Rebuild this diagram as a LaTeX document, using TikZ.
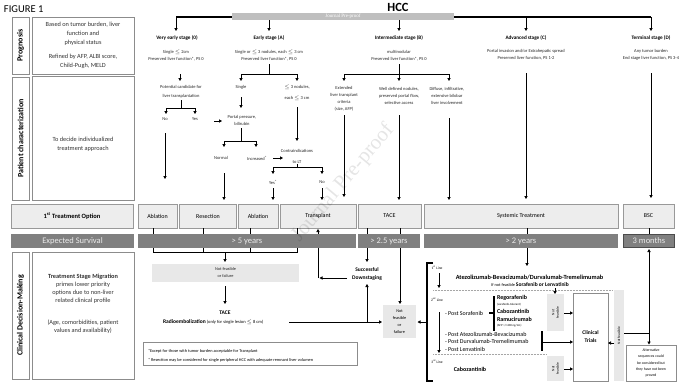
\documentclass[tikz,border=0pt]{standalone}
\usepackage{fontspec}
\setmainfont{Carlito}
\newfontfamily\serifwm{Liberation Serif}
\usetikzlibrary{arrows.meta}
\newcommand\fsz[2]{\fontsize{#1}{#2}\selectfont}
\begin{document}
\begin{tikzpicture}[x=1pt,y=-1pt]
\tikzset{
  every node/.style={inner sep=0pt, outer sep=0pt},
  ln/.style={line width=0.9pt, black},
  arr/.style={ln, -{Triangle[length=3pt,width=3.2pt]}},
  stg/.style={font=\bfseries\fsz{5.2}{6}},
  sm/.style={font=\fsz{4.5}{7}, align=center, text=black!85},
  opt/.style={draw=black!40, fill=black!7, line width=0.6pt, font=\fsz{6}{7}, minimum height=24pt},
  sbar/.style={fill=black!50, font=\fsz{8.5}{9}, text=black!8, minimum height=14pt},
  lbox/.style={draw=black!45, line width=0.6pt},
  vlab/.style={font=\bfseries\fsz{8}{9}, rotate=90},
  lt/.style={font=\fsz{6.3}{9}, align=center, text=black!80},
  gbox/.style={fill=black!9},
  thk/.style={line width=1.3pt, black},
}
\useasboundingbox (0,0) rectangle (680,384);
\fill[white] (0,0) rectangle (680,384);

% title
\node[font=\fsz{10.5}{12}, anchor=west] (fig) at (4,9) {FIGURE 1};
\node[font=\bfseries\fsz{12.5}{13}] (hcc) at (398,7.5) {HCC};

% header line and arrows
\draw[line width=1.4pt] (176,17) -- (651,17);
\foreach \x in {176,269,399,526,651} \draw[arr] (\x,17) -- (\x,31);
\fill[black!25] (232,13) rectangle (454,20);
\node[font=\serifwm\fsz{5}{6}, text=white] (jpp) at (343,16.5) {Journal Pre-proof};

% stages
\node[stg] (s0) at (177,38) {Very early stage (0)};
\node[stg] (sA) at (269,38) {Early stage (A)};
\node[stg] (sB) at (399,38) {Intermediate  stage (B)};
\node[stg] (sC) at (526,38) {Advanced  stage (C)};
\node[stg] (sD) at (651,38) {Terminal stage (D)};
\node[sm] (d0) at (176,55.5) {Single $\le$ 2cm\\Preserved liver function*, PS 0};
\node[sm] (dA) at (269,55.5) {Single or $\le$ 3 nodules, each $\le$ 3 cm\\Preserved liver function*, PS 0};
\node[sm] (dB) at (399,56) {multinodular\\Preserved liver function*, PS 0};
\node[sm] (dC) at (526,55) {Portal invasion  and/or Extrahepatic spread\\Preserved liver function, PS 1-2};
\node[sm] (dD) at (651,55) {Any tumor burden\\End stage liver function, PS 3-4};

% very early branch
\draw[arr] (180,74) -- (180,81);
\node[sm, font=\fsz{4.5}{9}] (pc) at (181,91.5) {Potential candidate for\\liver transplantation};
\draw[ln] (181,100) -- (181,108);
\draw[arr] (181,108) -| (166,114);
\draw[arr] (181,108) -| (195,114);
\node[sm] (no0) at (165,119) {No};
\node[sm] (yes0) at (195,119) {Yes};
\draw[arr] (214,121) -- (222,121);
\draw[arr] (165,133) -- (165,179);

% early branch
\draw[ln] (269,64) -- (269,74);
\draw[arr] (269,74) -| (241,81);
\draw[arr] (269,74) -| (297,81);
\node[sm] (single) at (241,87) {Single};
\node[sm, font=\fsz{4.5}{11}] (n3) at (297,92.5) {$\le$ 3 nodules,\\each $\le$ 3 cm};
\draw[arr] (241,97) -- (241,108);
\node[sm] (portal) at (242,120.5) {Portal pressure,\\bilirubin};
\draw[ln] (241,128) -- (241,141);
\draw[arr] (241,141) -| (224,147);
\draw[arr] (241,141) -| (256,147);
\node[sm] (normal) at (221,158) {Normal};
\node[sm] (incr) at (257,158) {Increased\textsuperscript{\textasciicircum}};
\draw[arr] (273,158) -- (283,158);
\draw[arr] (297,107) -- (297,141);
\node[sm, font=\fsz{4.5}{11}] (contra) at (297,156.5) {Contraindications\\to LT};
\draw[ln] (297,164) -- (297,167);
\draw[arr] (297,167) -| (273,174);
\draw[arr] (297,167) -| (322,174);
\node[sm] (yesA) at (273,182) {Yes\textsuperscript{\textasciicircum}};
\node[sm] (noA) at (322,182) {No};
\draw[arr] (273,188) -- (273,200);
\draw[arr] (322,188) -- (322,200);
\draw[arr] (224,173) -- (224,200);

% intermediate branch
\draw[ln] (399,64) -- (399,74);
\draw[arr] (399,74) -| (344,81);
\draw[arr] (399,74) -| (449,81);
\draw[arr] (399,74) -- (399,81);
\node[sm] (ext) at (344,98.5) {Extended\\liver transplant\\criteria\\(size, AFP)};
\node[sm] (well) at (399,96) {Well defined nodules,\\preserved portal flow,\\selective access};
\node[sm] (diff) at (447,96) {Diffuse, infiltrative,\\extensive bilobar\\liver involvement};
\draw[arr] (344,115) -- (344,197);
\draw[arr] (399,115) -- (399,200);
\draw[arr] (449,118) -- (449,200);
\draw[arr] (526,73) -- (526,199);
\draw[arr] (651,73) -- (651,198);

% left column
\node[lbox, minimum width=17pt, minimum height=57pt] (lp) at (20.5,45.5) {};
\node[vlab] at (lp) {Prognosis};
\node[lbox, minimum width=102pt, minimum height=57pt] (tp) at (83,45.5) {};
\node[lt] at (83,45.5) {Based on tumor burden, liver\\function and\\physical status\\[5pt]Refined by AFP,  ALBI score,\\Child-Pugh, MELD};
\node[lbox, minimum width=17pt, minimum height=123pt] (lpc) at (20.5,138.5) {};
\node[vlab] at (lpc) {Patient characterization};
\node[lbox, minimum width=102pt, minimum height=124pt] (tpc) at (83,138.5) {};
\node[lt] at (83,144.5) {To decide individualized\\treatment approach};
\node[lbox, minimum width=17pt, minimum height=127pt] (lcd) at (20.5,315.5) {};
\node[vlab] at (lcd) {Clinical Decision-Making};
\node[lbox, minimum width=102pt, minimum height=127pt] (tcd) at (83,315.5) {};
\node[lt, font=\fsz{6.3}{8}] at (83,304) {\textbf{Treatment Stage Migration}\\primes lower priority\\options due to non-liver\\related clinical profile\\[14pt](Age, comorbidities, patient\\values and  availability)};

% treatment options
\node[opt, minimum width=122pt, font=\bfseries\fsz{6.5}{7}] (o0) at (72,216) {1\textsuperscript{st} Treatment Option};
\node[opt, minimum width=39pt] (abl1) at (157.5,216) {Ablation};
\node[opt, minimum width=57pt] (res) at (208,216) {Resection};
\node[opt, minimum width=40pt] (abl2) at (258,216) {Ablation};
\node[opt, minimum width=76pt] (tx) at (318,216) {Transplant};
\node[opt, minimum width=63pt] (tace) at (389.5,216) {TACE};
\node[opt, minimum width=194pt] (sys) at (521,216) {Systemic Treatment};
\node[opt, minimum width=51pt] (bsc) at (648.5,216) {BSC};

% connectors below options
\draw[ln] (153,228) -- (153,252) -- (297,252) -- (297,228);
\draw[ln] (203,228) -- (203,252);
\draw[ln] (250,228) -- (250,252);
\draw[arr] (225,252) -- (225,262);
\draw[arr] (400,228) -- (400,304);
\draw[arr] (367,228) -- (367,262);
\draw[arr] (527,228) -- (527,266);
\draw[ln] (649,228) -- (649,236);
\draw[arr] (318,278) -- (318,229);
\draw[arr] (347,278) -- (319.5,278);

\node[gbox, minimum width=147pt, minimum height=18pt] (nf1) at (225.5,273) {};
\node[sm, font=\fsz{4.3}{7}] at (nf1) {Not feasible\\or failure};
\draw[arr] (225,286) -- (225,304);
\node[font=\bfseries\fsz{5.5}{6}] (tace2) at (225,313) {TACE};
\node[anchor=west, font=\fsz{4.5}{6}] (radio) at (163,322) {\textbf{\fsz{5.5}{6}Radioembolization} (only  for single lesion $\le$ 8 cm)};
\draw[arr] (289,322) -- (382,322);
\draw[arr] (367,322) -- (367,284);
\node[font=\bfseries\fsz{5.5}{8}, align=center] (ds) at (367,274) {Successful\\Downstaging};
\node[gbox, minimum width=33pt, minimum height=33pt, font=\fsz{4.3}{6.8}, align=center] (nf2) at (399.5,321.5) {Not\\feasible\\or\\failure};
\draw[arr] (426,322) -- (417.5,322);

% footnotes
\node[draw=black!45, line width=0.6pt, minimum width=214pt, minimum height=23pt] (fn) at (250,353.5) {};
\node[anchor=west, font=\fsz{4.3}{5}] (fn1) at (148,351) {*Except for  those with tumor burden acceptable for Transplant};
\node[anchor=west, font=\fsz{4.3}{5}] (fn2) at (148,360) {* Resection may be considered for single peripheral HCC with adequate remnant liver volumen};

% systemic bracket
\draw[thk] (433,263) -- (427,263) -- (427,381) -- (433,381);
\draw[black!35, densely dotted, line width=0.5pt] (433,290.5) -- (613,290.5);
\draw[black!35, densely dotted, line width=0.5pt] (433,354.5) -- (547,354.5);
\node[font=\fsz{3.6}{4}] (l1) at (437,268) {1\textsuperscript{st} Line};
\draw[arr] (439,273) -- (439,288);
\node[font=\bfseries\fsz{6.3}{7}] (atezo) at (529.5,277) {Atezolizumab-Bevacizumab/Durvalumab-Tremelimumab};
\node[font=\fsz{4.3}{5}] (ifnot) at (530,284.5) {If not feasible \textbf{\fsz{5.5}{6}Sorafenib or Lenvatinib}};
\draw[arr] (555,288) -- (555,294);
\node[font=\fsz{3.6}{4}] (l2) at (437,300) {2\textsuperscript{nd} Line};
\draw[arr] (439,312) -- (439,353);
\node[anchor=west, font=\fsz{6}{7}] (psor) at (445,313) {- Post Sorafenib};
\draw[thk] (489,313) -- (494,313);
\draw[thk] (494,296) -- (494,331);
\node[anchor=west, font=\bfseries\fsz{6}{6}] (rego) at (497,298) {Regorafenib};
\node[anchor=west, font=\fsz{3}{4}] (regot) at (497,304.5) {(sorafenib-tolerant)};
\node[anchor=west, font=\bfseries\fsz{6}{6}] (cabo) at (497,311) {Cabozantinib};
\node[anchor=west, font=\bfseries\fsz{6}{6}] (ramu) at (497,319) {Ramucirumab};
\node[anchor=west, font=\fsz{3}{4}] (ramut) at (497,325.5) {(AFP >/=400 ng/mL)};
\node[anchor=west, font=\fsz{6}{7.5}, align=left] (pother) at (445,341.5) {- Post Atezolizumab-Bevacizumab\\- Post Durvalumab-Tremelimumab\\- Post Lenvatinib};
\draw[thk] (542,331) -- (542,351);
\draw[arr] (542,342) -- (573,342);
\node[font=\fsz{3.6}{4}] (l3) at (437,362) {3\textsuperscript{rd} Line};
\node[font=\bfseries\fsz{6}{7}] (cabo3) at (470,369) {Cabozantinib};

\node[gbox, minimum width=17pt, minimum height=37pt] (nf3) at (555.5,312.5) {};
\node[rotate=90, font=\fsz{3.6}{4.5}, align=center] at (nf3) {Not\\feasible};
\node[gbox, minimum width=17pt, minimum height=25pt] (nf4) at (555.5,368.5) {};
\node[rotate=90, font=\fsz{3.6}{4.5}, align=center] at (nf4) {Not\\feasible};
\draw[arr] (nf3.east |- 0,313) -- (573,313);
\draw[arr] (nf4.east |- 0,369) -- (573,369);
\node[draw=black!45, line width=0.6pt, fill=white, minimum width=35pt, minimum height=88pt, font=\bfseries\fsz{5.5}{8}, align=center] (ct) at (590.5,337) {Clinical\\Trials};
\node[gbox, minimum width=10pt, minimum height=91pt] (nf5) at (619,335.5) {};
\node[rotate=90, font=\fsz{3.6}{4}] at (nf5) {Not feasible};
\draw[arr] (nf5.west |- 0,343) -- (ct.east |- 0,343);
\draw[ln] (624,333) -- (649,333);
\draw[arr] (649,333) -- (649,249);
\draw[arr] (649,333) -- (649,344.5);
\node[draw=black!45, line width=0.6pt, minimum width=50pt, minimum height=36pt, font=\fsz{3.8}{6.2}, align=center] (alt) at (651,363) {Alternative\\sequences could\\be considered but\\they have not been\\proved};

% survival bars
\node[sbar, minimum width=123pt] (bexp) at (72.5,241) {Expected Survival};
\node[sbar, minimum width=218pt] (b5) at (247,241) {> 5 years};
\node[sbar, minimum width=62pt] (b25) at (389,241) {> 2.5 years};
\node[sbar, minimum width=194pt] (b2) at (521,241) {> 2 years};
\node[sbar, draw=black!70, line width=0.8pt, minimum width=51pt, minimum height=13pt] (b3) at (649,241) {3 months};

% watermark
\node[rotate=50, font=\serifwm\fsz{21}{22}, text=black, text opacity=0.1] (wm) at (343,183) {Journal Pre-proof};
\end{tikzpicture}
\end{document}
